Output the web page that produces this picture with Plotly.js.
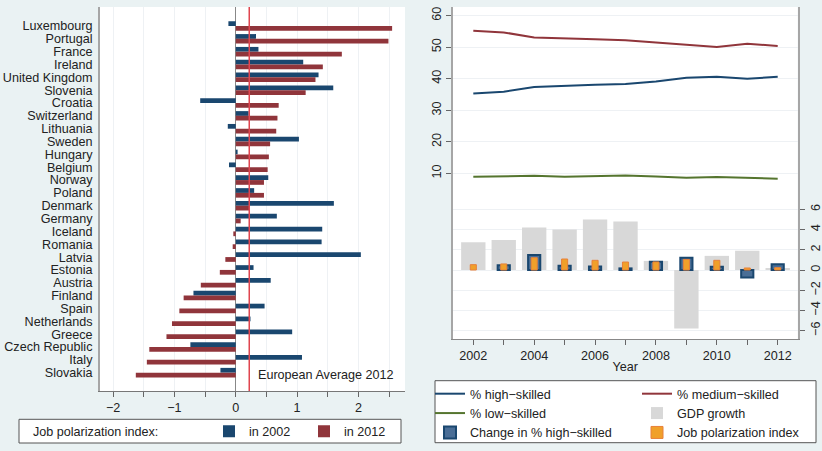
<!DOCTYPE html>
<html>
<head>
<meta charset="utf-8">
<script src="https://cdn.plot.ly/plotly-3.0.1.min.js"></script>
<style>html,body{margin:0;padding:0;background:#eaf2f3}</style>
</head>
<body>
<div id="plot" style="width:822px;height:451px"></div>
<script>
/* Left panel: job polarization index by country */
var countries = ["Luxembourg", "Portugal", "France", "Ireland", "United Kingdom", "Slovenia",
  "Croatia", "Switzerland", "Lithuania", "Sweden", "Hungary", "Belgium", "Norway", "Poland",
  "Denmark", "Germany", "Iceland", "Romania", "Latvia", "Estonia", "Austria", "Finland",
  "Spain", "Netherlands", "Greece", "Czech Republic", "Italy", "Slovakia"];
var jpi2002 = [-0.12, 0.33, 0.37, 1.10, 1.35, 1.59, -0.58, 0.21, -0.13, 1.03, 0.03, -0.11, 0.53, 0.30,
  1.60, 0.67, 1.41, 1.40, 2.04, 0.29, 0.57, -0.69, 0.47, 0.24, 0.92, -0.74, 1.08, -0.25];
var jpi2012 = [2.55, 2.49, 1.73, 1.42, 1.30, 1.14, 0.70, 0.68, 0.66, 0.56, 0.54, 0.52, 0.46, 0.46,
  0.22, 0.08, -0.04, -0.05, -0.17, -0.26, -0.57, -0.85, -0.92, -1.04, -1.13, -1.41, -1.45, -1.63];
var euAverage2012 = 0.22;

/* Right panel: Europe over time */
var years = [2002, 2003, 2004, 2005, 2006, 2007, 2008, 2009, 2010, 2011, 2012];
var pctHigh = [35.3, 35.9, 37.4, 37.8, 38.1, 38.3, 39.1, 40.3, 40.6, 40.0, 40.6];
var pctMedium = [55.2, 54.7, 53.1, 52.7, 52.5, 52.2, 51.5, 50.6, 50.1, 51.1, 50.4];
var pctLow = [8.9, 9.1, 9.2, 8.9, 9.0, 9.3, 9.0, 8.6, 8.8, 8.5, 8.3];
var gdpGrowth = [2.74, 2.97, 4.2, 4.0, 5.0, 4.8, 0.9, -5.8, 1.4, 1.9, 0.2];
var changeHigh = [null, 0.46, 1.48, 0.43, 0.36, 0.16, 0.82, 1.22, 0.33, -0.73, 0.56];
var jpiEurope = [0.53, 0.6, 1.22, 1.09, 0.96, 0.79, 0.8, 1.05, 0.96, 0.2, 0.23];

var W = 822, H = 451;
function px(p) { return p / W; }
function py(p) { return 1 - p / H; }

var fnt = {family: "Liberation Sans, Arial, sans-serif", size: 12.6, color: "#222"};
var grid = "#eef1f4";

var traces = [
  {type: "bar", orientation: "h", y: countries, x: jpi2002, xaxis: "x", yaxis: "y",
   width: 0.37, offset: -0.37, marker: {color: "#1a476f"}, name: "in 2002", legend: "legend"},
  {type: "bar", orientation: "h", y: countries, x: jpi2012, xaxis: "x", yaxis: "y",
   width: 0.37, offset: 0, marker: {color: "#90353b"}, name: "in 2012", legend: "legend"},

  {type: "scatter", mode: "lines", x: years, y: pctHigh, xaxis: "x2", yaxis: "y2",
   line: {color: "#1a476f", width: 2}, name: "% high\u2212skilled", legend: "legend2"},
  {type: "scatter", mode: "lines", x: years, y: pctMedium, xaxis: "x2", yaxis: "y2",
   line: {color: "#90353b", width: 2}, name: "% medium\u2212skilled", legend: "legend3"},
  {type: "scatter", mode: "lines", x: years, y: pctLow, xaxis: "x2", yaxis: "y2",
   line: {color: "#55752f", width: 2}, name: "% low\u2212skilled", legend: "legend2"},

  {type: "bar", x: years, y: gdpGrowth, xaxis: "x2", yaxis: "y3", width: 0.8,
   marker: {color: "#d8d8d8"}, name: "GDP growth", legend: "legend3"},
  {type: "bar", x: years, y: changeHigh, xaxis: "x2", yaxis: "y3", width: 0.4,
   marker: {color: "#4a6e96", line: {color: "#1a476f", width: 2}},
   name: "Change in % high\u2212skilled", legend: "legend2"},
  {type: "bar", x: years, y: jpiEurope, xaxis: "x2", yaxis: "y3", width: 0.2,
   marker: {color: "#f0a02a", line: {color: "#e8803a", width: 1}},
   name: "Job polarization index", legend: "legend3"}
];

var legendBase = {orientation: "v", xref: "paper", yref: "paper", bgcolor: "rgba(0,0,0,0)",
  borderwidth: 0, font: fnt, yanchor: "top", xanchor: "left"};

var layout = {
  width: W, height: H,
  margin: {l: 0, r: 0, t: 0, b: 0, pad: 0, autoexpand: false},
  paper_bgcolor: "#eaf2f3",
  plot_bgcolor: "#ffffff",
  font: fnt,
  barmode: "overlay",
  xaxis: {
    domain: [px(100), px(405)], anchor: "y", range: [-2.214, 2.76],
    tick0: 0, dtick: 1, ticks: "outside", ticklen: 5, tickcolor: "#666",
    showgrid: true, gridcolor: grid,
    minor: {dtick: 0.5, ticks: "outside", ticklen: 5, tickcolor: "#666", showgrid: true, gridcolor: grid},
    zeroline: true, zerolinecolor: "#888", zerolinewidth: 1,
    showline: true, linecolor: "#777", linewidth: 1, tickfont: fnt
  },
  yaxis: {
    domain: [py(391), py(7)], anchor: "x", type: "category", range: [28.43, -1.48],
    tickmode: "array", tickvals: countries,
    showline: true, linecolor: "#a6a6a6", linewidth: 2, ticks: "", showgrid: false,
    zeroline: false, tickfont: fnt, ticklabelstandoff: 3
  },
  xaxis2: {
    domain: [px(453), px(797.7)], anchor: "y2", range: [2001.333, 2012.657],
    tickmode: "linear", tick0: 2002, dtick: 2, ticks: "outside", ticklen: 5, tickcolor: "#666",
    minor: {dtick: 1, ticks: "outside", ticklen: 5, tickcolor: "#666"},
    showgrid: false, zeroline: false, showline: true, linecolor: "#888", linewidth: 1,
    tickfont: fnt, title: {text: "Year", font: fnt, standoff: 0}
  },
  yaxis2: {
    domain: [py(339), py(7)], anchor: "x2", range: [-42.57, 62.76],
    tickvals: [10, 20, 30, 40, 50, 60], tickangle: -90, ticks: "outside", ticklen: 5, tickcolor: "#666",
    showgrid: true, gridcolor: grid, zeroline: false,
    showline: true, linecolor: "#a6a6a6", linewidth: 2, tickfont: fnt
  },
  yaxis3: {
    overlaying: "y2", side: "right", anchor: "x2", range: [-6.83, 26.04],
    tickvals: [-6, -4, -2, 0, 2, 4, 6], tickangle: -90, ticks: "outside", ticklen: 5, tickcolor: "#666",
    showgrid: true, gridcolor: grid, zeroline: false,
    showline: true, linecolor: "#a6a6a6", linewidth: 2, tickfont: fnt
  },
  legend: {orientation: "h", xref: "paper", yref: "paper", x: px(209), y: py(431.5),
    xanchor: "left", yanchor: "middle", bgcolor: "rgba(0,0,0,0)", borderwidth: 0,
    font: fnt, entrywidth: 50, traceorder: "normal"},
  legend2: Object.assign({}, legendBase, {x: px(430), y: py(379), traceorder: "normal"}),
  legend3: Object.assign({}, legendBase, {x: px(637), y: py(379), traceorder: "normal"}),
  shapes: [
    {type: "line", xref: "x", yref: "y domain", x0: euAverage2012, x1: euAverage2012, y0: 0, y1: 1,
     line: {color: "#e0454f", width: 1.5}},
    {type: "rect", xref: "paper", yref: "paper", x0: px(19), x1: px(401), y0: py(443), y1: py(419.3),
     line: {color: "#555", width: 1}, fillcolor: "#ffffff", layer: "below"},
    {type: "rect", xref: "paper", yref: "paper", x0: px(435), x1: px(816), y0: py(442.7), y1: py(380.7),
     line: {color: "#555", width: 1}, fillcolor: "#ffffff", layer: "below"}
  ],
  annotations: [
    {text: "European Average 2012", xref: "paper", yref: "paper", x: px(256), y: py(375),
     xanchor: "left", yanchor: "middle", showarrow: false, font: fnt},
    {text: "Job polarization index:", xref: "paper", yref: "paper", x: px(31), y: py(431.5),
     xanchor: "left", yanchor: "middle", showarrow: false, font: fnt}
  ]
};

Plotly.newPlot("plot", traces, layout, {displayModeBar: false, staticPlot: true});
</script>
</body>
</html>
